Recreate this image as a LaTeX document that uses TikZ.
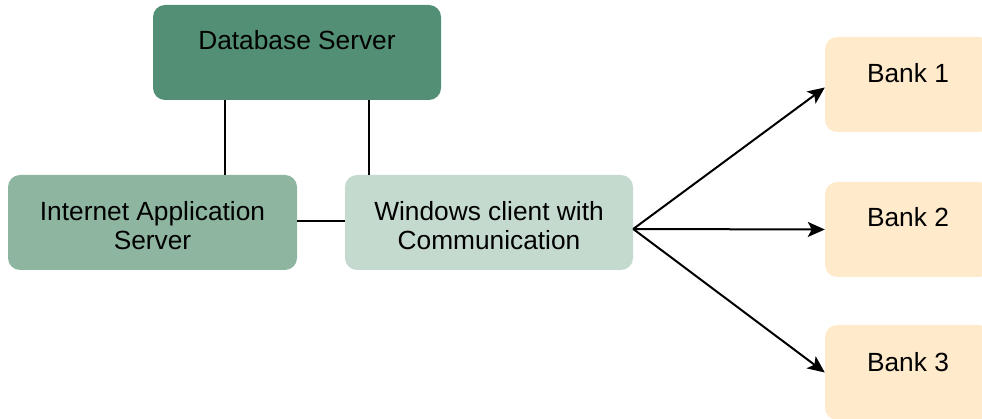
\documentclass[tikz,border=0pt]{standalone}
\usepackage{fontspec}
\setmainfont{Liberation Sans}
\usetikzlibrary{arrows.meta}
\definecolor{dbcol}{HTML}{528F74}
\definecolor{iascol}{HTML}{8DB5A0}
\definecolor{wccol}{HTML}{C5DACE}
\definecolor{bankcol}{HTML}{FFEBCC}
\begin{document}
\begin{tikzpicture}[x=1pt,y=-1pt,
  box/.style={rounded corners=12pt, minimum width=288pt, minimum height=95pt, inner sep=0pt, draw=none},
  bankbox/.style={box, fill=bankcol, minimum width=166pt},
  lbl/.style={font=\fontsize{26.3pt}{29pt}\selectfont, align=center, inner sep=0pt},
  conn/.style={line width=1.8pt},
  arr/.style={line width=2pt, -{Stealth[length=17pt,width=15pt,inset=4pt]}}]
\useasboundingbox (0,0) rectangle (982,419);
\node[box, fill=dbcol] (db) at (297,52.5) {};
\node[box, fill=iascol, minimum width=289pt] (ias) at (152.5,222.5) {};
\node[box, fill=wccol] (wc) at (489,222.5) {};
\node[bankbox] (b1) at (908,84.5) {};
\node[bankbox] (b2) at (908,229.5) {};
\node[bankbox] (b3) at (908,372.5) {};
\node[lbl, anchor=base] (dbt) at (297,50) {Database Server};
\node[lbl] (iast) at (152.5,226) {Internet Application\\Server};
\node[lbl] (wct) at (489,226) {Windows client with\\Communication};
\node[lbl, anchor=base] (b1t) at (908,83) {Bank 1};
\node[lbl, anchor=base] (b2t) at (908,227) {Bank 2};
\node[lbl, anchor=base] (b3t) at (908,371) {Bank 3};
\draw[conn] ([xshift=-72pt]db.south) -- ([xshift=72.5pt]ias.north);
\draw[conn] ([xshift=72pt]db.south) -- ([xshift=-120pt]wc.north);
\draw[conn] ([yshift=1.5pt]ias.east) -- ([yshift=1.5pt]wc.west);
\coordinate (hub) at ([yshift=-6.5pt]wc.east);
\draw[arr] (hub) -- ([yshift=-3pt]b1.west);
\draw[arr] (hub) -- (b2.west);
\draw[arr] (hub) -- (b3.west);
\end{tikzpicture}
\end{document}
